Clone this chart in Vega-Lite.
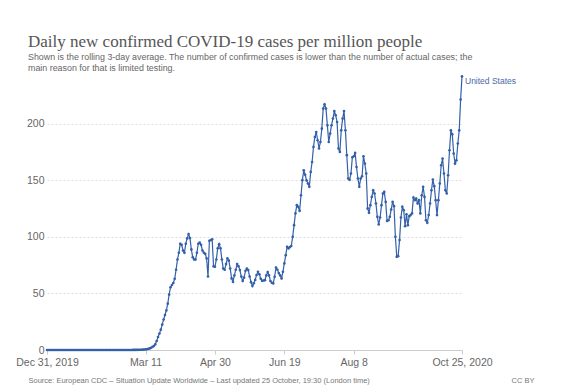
{
  "$schema": "https://vega.github.io/schema/vega-lite/v6.json",
  "width": 415,
  "height": 277,
  "autosize": {"type": "none"},
  "padding": {"left": 47, "top": 73, "right": 101, "bottom": 40},
  "background": "white",
  "config": {
    "view": {"stroke": null},
    "font": "Liberation Sans"
  },
  "title": {
    "text": "Daily new confirmed COVID-19 cases per million people",
    "subtitle": ["Shown is the rolling 3-day average. The number of confirmed cases is lower than the number of actual cases; the", "main reason for that is limited testing."],
    "anchor": "start",
    "frame": "group",
    "dx": -19,
    "offset": -0.5,
    "font": "Liberation Serif",
    "fontSize": 17,
    "fontWeight": "normal",
    "color": "#555555",
    "subtitleFont": "Liberation Sans",
    "subtitleFontSize": 8.9,
    "subtitleColor": "#666666",
    "subtitlePadding": 2,
    "subtitleLineHeight": 11
  },
  "data": {"values": [
{"date":"2019-12-31","cases":0},
{"date":"2020-01-01","cases":0},{"date":"2020-01-02","cases":0},{"date":"2020-01-03","cases":0},{"date":"2020-01-04","cases":0},{"date":"2020-01-05","cases":0},{"date":"2020-01-06","cases":0},{"date":"2020-01-07","cases":0},{"date":"2020-01-08","cases":0},{"date":"2020-01-09","cases":0},{"date":"2020-01-10","cases":0},
{"date":"2020-01-11","cases":0},{"date":"2020-01-12","cases":0},{"date":"2020-01-13","cases":0},{"date":"2020-01-14","cases":0},{"date":"2020-01-15","cases":0},{"date":"2020-01-16","cases":0},{"date":"2020-01-17","cases":0},{"date":"2020-01-18","cases":0},{"date":"2020-01-19","cases":0},{"date":"2020-01-20","cases":0},
{"date":"2020-01-21","cases":0},{"date":"2020-01-22","cases":0},{"date":"2020-01-23","cases":0},{"date":"2020-01-24","cases":0},{"date":"2020-01-25","cases":0},{"date":"2020-01-26","cases":0},{"date":"2020-01-27","cases":0},{"date":"2020-01-28","cases":0},{"date":"2020-01-29","cases":0},{"date":"2020-01-30","cases":0},{"date":"2020-01-31","cases":0},
{"date":"2020-02-01","cases":0},{"date":"2020-02-02","cases":0},{"date":"2020-02-03","cases":0},{"date":"2020-02-04","cases":0},{"date":"2020-02-05","cases":0},{"date":"2020-02-06","cases":0},{"date":"2020-02-07","cases":0},{"date":"2020-02-08","cases":0},{"date":"2020-02-09","cases":0},{"date":"2020-02-10","cases":0},
{"date":"2020-02-11","cases":0},{"date":"2020-02-12","cases":0},{"date":"2020-02-13","cases":0},{"date":"2020-02-14","cases":0},{"date":"2020-02-15","cases":0},{"date":"2020-02-16","cases":0},{"date":"2020-02-17","cases":0},{"date":"2020-02-18","cases":0},{"date":"2020-02-19","cases":0},{"date":"2020-02-20","cases":0},
{"date":"2020-02-21","cases":0},{"date":"2020-02-22","cases":0},{"date":"2020-02-23","cases":0},{"date":"2020-02-24","cases":0},{"date":"2020-02-25","cases":0},{"date":"2020-02-26","cases":0},{"date":"2020-02-27","cases":0},{"date":"2020-02-28","cases":0},{"date":"2020-02-29","cases":0.02},
{"date":"2020-03-01","cases":0.03},{"date":"2020-03-02","cases":0.05},{"date":"2020-03-03","cases":0.07},{"date":"2020-03-04","cases":0.1},{"date":"2020-03-05","cases":0.12},{"date":"2020-03-06","cases":0.15},{"date":"2020-03-07","cases":0.2},{"date":"2020-03-08","cases":0.25},{"date":"2020-03-09","cases":0.3},{"date":"2020-03-10","cases":0.4},
{"date":"2020-03-11","cases":0.5},{"date":"2020-03-12","cases":0.7},{"date":"2020-03-13","cases":1.0},{"date":"2020-03-14","cases":1.4},{"date":"2020-03-15","cases":2.0},{"date":"2020-03-16","cases":2.7},{"date":"2020-03-17","cases":3.5},{"date":"2020-03-18","cases":5},{"date":"2020-03-19","cases":8},{"date":"2020-03-20","cases":11.5},
{"date":"2020-03-21","cases":14.5},{"date":"2020-03-22","cases":18},{"date":"2020-03-23","cases":22.5},{"date":"2020-03-24","cases":27},{"date":"2020-03-25","cases":31},{"date":"2020-03-26","cases":35},{"date":"2020-03-27","cases":41},{"date":"2020-03-28","cases":49},{"date":"2020-03-29","cases":55.5},{"date":"2020-03-30","cases":57.5},{"date":"2020-03-31","cases":59.3},
{"date":"2020-04-01","cases":63},{"date":"2020-04-02","cases":71},{"date":"2020-04-03","cases":80},{"date":"2020-04-04","cases":86},{"date":"2020-04-05","cases":94},{"date":"2020-04-06","cases":93},{"date":"2020-04-07","cases":88},{"date":"2020-04-08","cases":86},{"date":"2020-04-09","cases":94},{"date":"2020-04-10","cases":98.7},
{"date":"2020-04-11","cases":102.5},{"date":"2020-04-12","cases":99},{"date":"2020-04-13","cases":89},{"date":"2020-04-14","cases":82},{"date":"2020-04-15","cases":80},{"date":"2020-04-16","cases":80},{"date":"2020-04-17","cases":86},{"date":"2020-04-18","cases":94},{"date":"2020-04-19","cases":95},{"date":"2020-04-20","cases":93},
{"date":"2020-04-21","cases":88},{"date":"2020-04-22","cases":86},{"date":"2020-04-23","cases":85},{"date":"2020-04-24","cases":81},{"date":"2020-04-25","cases":65},{"date":"2020-04-26","cases":96.6},{"date":"2020-04-27","cases":97.2},{"date":"2020-04-28","cases":98},{"date":"2020-04-29","cases":74},{"date":"2020-04-30","cases":73.6},
{"date":"2020-05-01","cases":80},{"date":"2020-05-02","cases":90},{"date":"2020-05-03","cases":93.6},{"date":"2020-05-04","cases":90},{"date":"2020-05-05","cases":80},{"date":"2020-05-06","cases":72},{"date":"2020-05-07","cases":71},{"date":"2020-05-08","cases":76},{"date":"2020-05-09","cases":81},{"date":"2020-05-10","cases":79},
{"date":"2020-05-11","cases":72},{"date":"2020-05-12","cases":63.3},{"date":"2020-05-13","cases":60.3},{"date":"2020-05-14","cases":66},{"date":"2020-05-15","cases":71},{"date":"2020-05-16","cases":76},{"date":"2020-05-17","cases":74},{"date":"2020-05-18","cases":70.7},{"date":"2020-05-19","cases":65},{"date":"2020-05-20","cases":61},
{"date":"2020-05-21","cases":64},{"date":"2020-05-22","cases":70},{"date":"2020-05-23","cases":72},{"date":"2020-05-24","cases":70.7},{"date":"2020-05-25","cases":65},{"date":"2020-05-26","cases":60},{"date":"2020-05-27","cases":56.5},{"date":"2020-05-28","cases":59},{"date":"2020-05-29","cases":62},{"date":"2020-05-30","cases":66.3},{"date":"2020-05-31","cases":69.2},
{"date":"2020-06-01","cases":67},{"date":"2020-06-02","cases":63},{"date":"2020-06-03","cases":61.2},{"date":"2020-06-04","cases":61.5},{"date":"2020-06-05","cases":61.8},{"date":"2020-06-06","cases":66},{"date":"2020-06-07","cases":69},{"date":"2020-06-08","cases":66},{"date":"2020-06-09","cases":61},{"date":"2020-06-10","cases":59.5},
{"date":"2020-06-11","cases":58.9},{"date":"2020-06-12","cases":64.8},{"date":"2020-06-13","cases":73},{"date":"2020-06-14","cases":71},{"date":"2020-06-15","cases":68},{"date":"2020-06-16","cases":66},{"date":"2020-06-17","cases":63.3},{"date":"2020-06-18","cases":69.2},{"date":"2020-06-19","cases":76.6},{"date":"2020-06-20","cases":83.9},
{"date":"2020-06-21","cases":91.3},{"date":"2020-06-22","cases":89.8},{"date":"2020-06-23","cases":91},{"date":"2020-06-24","cases":92},{"date":"2020-06-25","cases":100},{"date":"2020-06-26","cases":110.4},{"date":"2020-06-27","cases":120.8},{"date":"2020-06-28","cases":128.1},{"date":"2020-06-29","cases":126.6},{"date":"2020-06-30","cases":123},
{"date":"2020-07-01","cases":136.9},{"date":"2020-07-02","cases":150.2},{"date":"2020-07-03","cases":159},{"date":"2020-07-04","cases":155},{"date":"2020-07-05","cases":150},{"date":"2020-07-06","cases":147.3},{"date":"2020-07-07","cases":144.3},{"date":"2020-07-08","cases":157.5},{"date":"2020-07-09","cases":166.3},{"date":"2020-07-10","cases":179.6},
{"date":"2020-07-11","cases":188.4},{"date":"2020-07-12","cases":192.8},{"date":"2020-07-13","cases":185.5},{"date":"2020-07-14","cases":178.2},{"date":"2020-07-15","cases":184},{"date":"2020-07-16","cases":195.8},{"date":"2020-07-17","cases":213.5},{"date":"2020-07-18","cases":217.3},{"date":"2020-07-19","cases":213.5},{"date":"2020-07-20","cases":198.8},
{"date":"2020-07-21","cases":184},{"date":"2020-07-22","cases":191.4},{"date":"2020-07-23","cases":198.8},{"date":"2020-07-24","cases":204.7},{"date":"2020-07-25","cases":211.4},{"date":"2020-07-26","cases":207.6},{"date":"2020-07-27","cases":201.7},{"date":"2020-07-28","cases":178.2},{"date":"2020-07-29","cases":175.2},{"date":"2020-07-30","cases":194.3},{"date":"2020-07-31","cases":204.7},
{"date":"2020-08-01","cases":211.4},{"date":"2020-08-02","cases":194.3},{"date":"2020-08-03","cases":172.3},{"date":"2020-08-04","cases":151.7},{"date":"2020-08-05","cases":150.5},{"date":"2020-08-06","cases":156.1},{"date":"2020-08-07","cases":170.5},{"date":"2020-08-08","cases":171.4},{"date":"2020-08-09","cases":174.3},{"date":"2020-08-10","cases":161.9},
{"date":"2020-08-11","cases":151.7},{"date":"2020-08-12","cases":144.3},{"date":"2020-08-13","cases":151.7},{"date":"2020-08-14","cases":153.7},{"date":"2020-08-15","cases":171.4},{"date":"2020-08-16","cases":164.9},{"date":"2020-08-17","cases":156.1},{"date":"2020-08-18","cases":125.2},{"date":"2020-08-19","cases":121.3},{"date":"2020-08-20","cases":128.1},
{"date":"2020-08-21","cases":135.4},{"date":"2020-08-22","cases":141.3},{"date":"2020-08-23","cases":138.4},{"date":"2020-08-24","cases":129.6},{"date":"2020-08-25","cases":117.8},{"date":"2020-08-26","cases":111},{"date":"2020-08-27","cases":117.2},{"date":"2020-08-28","cases":128.1},{"date":"2020-08-29","cases":138.4},{"date":"2020-08-30","cases":139.8},{"date":"2020-08-31","cases":131},
{"date":"2020-09-01","cases":114.2},{"date":"2020-09-02","cases":114.8},{"date":"2020-09-03","cases":117.8},{"date":"2020-09-04","cases":124.3},{"date":"2020-09-05","cases":131},{"date":"2020-09-06","cases":127.2},{"date":"2020-09-07","cases":100.1},{"date":"2020-09-08","cases":82.4},{"date":"2020-09-09","cases":83},{"date":"2020-09-10","cases":97.2},
{"date":"2020-09-11","cases":117.2},{"date":"2020-09-12","cases":126.6},{"date":"2020-09-13","cases":123.7},{"date":"2020-09-14","cases":109.5},{"date":"2020-09-15","cases":120.1},{"date":"2020-09-16","cases":110.4},{"date":"2020-09-17","cases":118.4},{"date":"2020-09-18","cases":119.3},{"date":"2020-09-19","cases":120.8},{"date":"2020-09-20","cases":134.9},
{"date":"2020-09-21","cases":132.5},{"date":"2020-09-22","cases":134},{"date":"2020-09-23","cases":129.6},{"date":"2020-09-24","cases":132.5},{"date":"2020-09-25","cases":120.8},{"date":"2020-09-26","cases":136.9},{"date":"2020-09-27","cases":144.3},{"date":"2020-09-28","cases":135.4},{"date":"2020-09-29","cases":114.8},{"date":"2020-09-30","cases":112.5},
{"date":"2020-10-01","cases":119.3},{"date":"2020-10-02","cases":129.6},{"date":"2020-10-03","cases":141.3},{"date":"2020-10-04","cases":150.8},{"date":"2020-10-05","cases":144.9},{"date":"2020-10-06","cases":132.5},{"date":"2020-10-07","cases":119.3},{"date":"2020-10-08","cases":132.5},{"date":"2020-10-09","cases":147.3},{"date":"2020-10-10","cases":163.4},
{"date":"2020-10-11","cases":169.3},{"date":"2020-10-12","cases":156.1},{"date":"2020-10-13","cases":141.3},{"date":"2020-10-14","cases":138.4},{"date":"2020-10-15","cases":154.6},{"date":"2020-10-16","cases":176.7},{"date":"2020-10-17","cases":194.3},{"date":"2020-10-18","cases":190.8},{"date":"2020-10-19","cases":173.8},{"date":"2020-10-20","cases":164.9},
{"date":"2020-10-21","cases":167.8},{"date":"2020-10-22","cases":182.6},{"date":"2020-10-23","cases":194.3},{"date":"2020-10-24","cases":221.5},{"date":"2020-10-25","cases":242}
  ]},
  "encoding": {
    "x": {
      "field": "date",
      "type": "temporal",
      "scale": {"type": "utc", "domain": [{"year": 2019, "month": 12, "date": 31, "utc": true}, {"year": 2020, "month": 10, "date": 25, "utc": true}], "nice": false},
      "axis": {
        "values": [
          {"year": 2019, "month": 12, "date": 31, "utc": true},
          {"year": 2020, "month": 3, "date": 11, "utc": true},
          {"year": 2020, "month": 4, "date": 30, "utc": true},
          {"year": 2020, "month": 6, "date": 19, "utc": true},
          {"year": 2020, "month": 8, "date": 8, "utc": true},
          {"year": 2020, "month": 10, "date": 25, "utc": true}
        ],
        "labelExpr": "utcFormat(datum.value, '%b %-d') + ((utcFormat(datum.value, '%m%d') == '1231' || utcFormat(datum.value, '%m%d') == '1025') ? utcFormat(datum.value, ', %Y') : '')",
        "labelFlush": false,
        "labelOverlap": false,
        "labelFontSize": 10.5,
        "labelColor": "#666666",
        "labelPadding": 3,
        "domainColor": "#cccccc",
        "tickColor": "#cccccc",
        "tickSize": 4,
        "grid": false,
        "title": "Source: European CDC \u2013 Situation Update Worldwide \u2013 Last updated 25 October, 19:30 (London time)",
        "titleAnchor": "start",
        "titleAlign": "left",
        "titleBaseline": "middle",
        "titleX": -19,
        "titleY": 30,
        "titleFontSize": 7.5,
        "titleFontWeight": "normal",
        "titleColor": "#777777"
      }
    },
    "y": {
      "field": "cases",
      "type": "quantitative",
      "scale": {"domain": [0, 245], "nice": false},
      "axis": {
        "values": [0, 50, 100, 150, 200],
        "domain": false,
        "ticks": false,
        "labelFontSize": 10.5,
        "labelColor": "#666666",
        "labelPadding": 3,
        "gridColor": "#dddddd",
        "gridDash": [2, 2],
        "title": "CC BY",
        "titleAngle": 0,
        "titleAlign": "left",
        "titleBaseline": "middle",
        "titleX": 464,
        "titleY": 307,
        "titleFontSize": 7.5,
        "titleFontWeight": "normal",
        "titleColor": "#777777"
      }
    }
  },
  "layer": [
    {
      "mark": {"type": "line", "color": "#3360a9", "strokeWidth": 1.2, "point": {"filled": true, "size": 7, "color": "#3360a9"}}
    },
    {
      "transform": [{"filter": {"field": "cases", "gte": 242}}],
      "mark": {"type": "text", "align": "left", "baseline": "middle", "dx": 3, "dy": 5, "fontSize": 8.5, "color": "#4a6aa5"},
      "encoding": {"text": {"value": "United States"}}
    }
  ]
}
